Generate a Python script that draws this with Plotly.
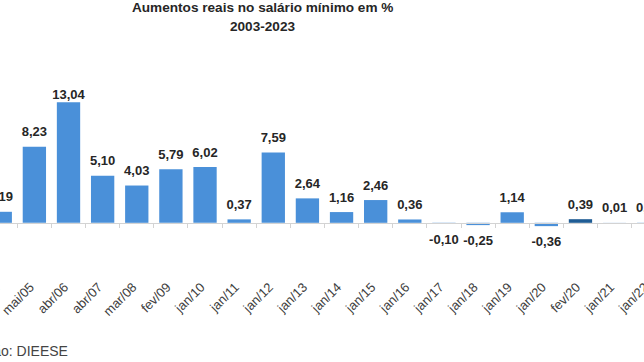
import plotly.graph_objects as go

# ---- data ----
categories = ["mai/04", "mai/05", "abr/06", "abr/07", "mar/08", "fev/09", "jan/10",
              "jan/11", "jan/12", "jan/13", "jan/14", "jan/15", "jan/16", "jan/17",
              "jan/18", "jan/19", "jan/20", "fev/20", "jan/21", "jan/22"]
values = [1.19, 8.23, 13.04, 5.10, 4.03, 5.79, 6.02, 0.37, 7.59, 2.64,
          1.16, 2.46, 0.36, -0.10, -0.25, 1.14, -0.36, 0.39, 0.01, 0.02]
highlight = "fev/20"
title_lines = ["Aumentos reais no salário mínimo em %", "2003-2023"]
source_text = "Elaboração: DIEESE"

# ---- layout geometry (pixels) ----
VIEW_W = 644            # browser window width (the reference is a crop)
W, H = 700, 362         # figure extends past the right edge of the window
plot_top, plot_bottom = 88, 279
zero_px = 222.8
px_per_unit = 9.25
px_per_cat = 34.13
first_center_px = 0.25
LABEL_FS = 13

y_top = (zero_px - plot_top) / px_per_unit
y_bot = -(plot_bottom - zero_px) / px_per_unit
x_start = -first_center_px / px_per_cat
x_end = x_start + W / px_per_cat
zero_pos = (plot_bottom - zero_px) / (plot_bottom - plot_top)


def py(px):
    """pixel row -> paper y"""
    return (plot_bottom - px) / (plot_bottom - plot_top)


def px_(px):
    """pixel column -> paper x"""
    return px / W


def label_marker_size(v):
    # invisible marker size controls the label offset from the bar end;
    # labels that would leave the plot area are pulled back onto the bar
    if v < 0:
        return 15
    bar_top = zero_px - v * px_per_unit
    return 10 if bar_top - 10.5 - 0.72 * LABEL_FS > plot_top else 0


BLUE = "#4A90D9"
DARK = "#1F5C94"
FONT = "Liberation Sans, Arial, sans-serif"
colors = [DARK if c == highlight else BLUE for c in categories]
labels = [f"{v:.2f}".replace(".", ",") for v in values]
positions = ["top center" if v >= 0 else "bottom center" for v in values]
msizes = [label_marker_size(v) for v in values]

fig = go.Figure()
fig.add_trace(go.Bar(
    x=categories, y=values, marker=dict(color=colors, line=dict(width=0)),
    hoverinfo="skip", showlegend=False, xaxis="x", yaxis="y",
))
fig.add_trace(go.Scatter(
    x=categories, y=values, mode="markers+text", text=labels,
    textposition=positions,
    marker=dict(size=msizes, opacity=0),
    textfont=dict(family=FONT, size=LABEL_FS, color="#262626", weight="bold"),
    cliponaxis=True, hoverinfo="skip", showlegend=False, xaxis="x2", yaxis="y",
))

annotations = [
    dict(text=title_lines[0], xref="paper", yref="paper", x=px_(262), xanchor="center",
         y=py(7.5), yanchor="middle", showarrow=False,
         font=dict(family=FONT, size=13.6, color="#262626", weight="bold")),
    dict(text=title_lines[1], xref="paper", yref="paper", x=px_(262), xanchor="center",
         y=py(26.5), yanchor="middle", showarrow=False,
         font=dict(family=FONT, size=13.6, color="#262626", weight="bold")),
    dict(text=source_text, xref="paper", yref="paper", x=px_(70), xanchor="right",
         y=py(351), yanchor="middle", showarrow=False,
         font=dict(family=FONT, size=14, color="#444444")),
]

fig.update_layout(
    template="none",
    width=W, height=H,
    margin=dict(l=0, r=0, t=plot_top, b=H - plot_bottom, pad=0, autoexpand=False),
    paper_bgcolor="white", plot_bgcolor="white",
    bargap=0.317,
    xaxis=dict(
        type="category", categoryorder="array", categoryarray=categories,
        range=[x_start, x_end], showgrid=False, zeroline=False, showline=False,
        ticks="", tickangle=-45, automargin=False,
        ticklabelshift=-4, ticklabelstandoff=-3,
        tickfont=dict(family=FONT, size=13, color="#404040"),
        fixedrange=True,
    ),
    xaxis2=dict(
        type="category", categoryorder="array", categoryarray=categories,
        overlaying="x", anchor="free", position=zero_pos,
        range=[x_start, x_end], showgrid=False, zeroline=False,
        showline=True, linecolor="#D3D3D3", linewidth=1,
        ticks="outside", ticklen=4, tickcolor="#D3D3D3", tickwidth=1,
        tickson="boundaries", showticklabels=False, automargin=False,
        fixedrange=True,
    ),
    yaxis=dict(
        range=[y_bot, y_top], visible=False, showgrid=False, zeroline=False,
        automargin=False, fixedrange=True,
    ),
    annotations=annotations,
)

fig.write_html(
    "out.html",
    config={"displayModeBar": False, "staticPlot": True},
    post_script="document.body.style.margin='0';document.body.style.overflow='hidden';",
)
